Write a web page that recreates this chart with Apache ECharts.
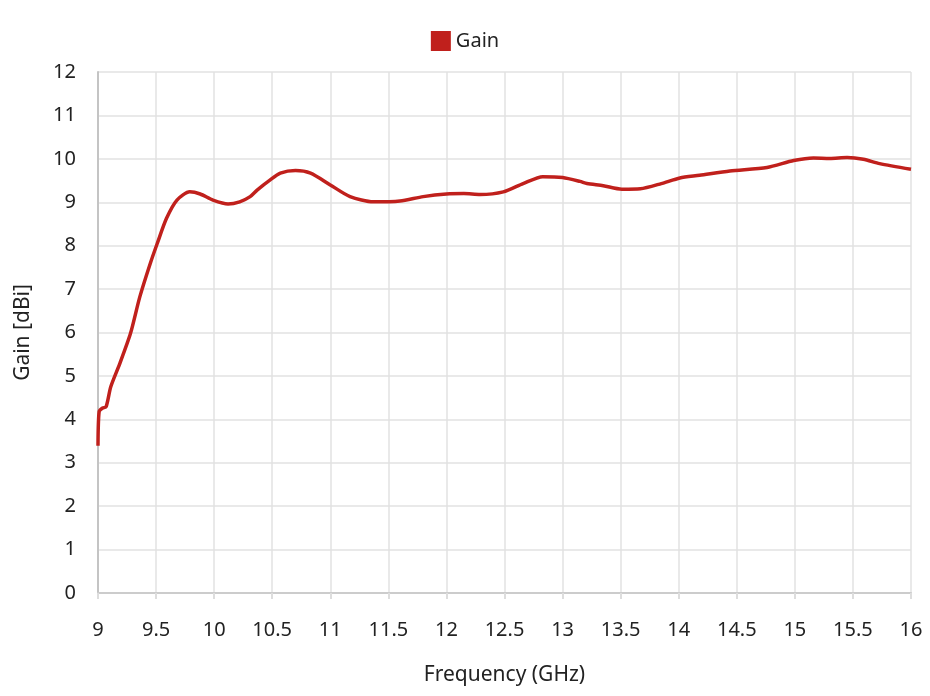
<!DOCTYPE html>
<html><head><meta charset="utf-8">
<script src="https://cdn.jsdelivr.net/npm/echarts@6/dist/echarts.min.js"></script>
<style>html,body{margin:0;padding:0;background:#fff}#c{width:930px;height:696px}</style>
</head><body><div id="c"></div>
<script>
const freq = [9.0, 9.01, 9.04, 9.07, 9.11, 9.19, 9.28, 9.36, 9.45, 9.51, 9.59, 9.68, 9.79, 9.88, 9.99, 10.12, 10.22, 10.31, 10.37, 10.48, 10.57, 10.70, 10.83, 11.0, 11.17, 11.37, 11.6, 11.8, 12.0, 12.15, 12.29, 12.49, 12.66, 12.83, 13.0, 13.15, 13.21, 13.35, 13.51, 13.67, 13.85, 14.01, 14.18, 14.44, 14.76, 14.99, 15.16, 15.3, 15.45, 15.59, 15.73, 16.0];
const gain = [3.39, 4.18, 4.26, 4.29, 4.75, 5.30, 5.98, 6.82, 7.59, 8.05, 8.63, 9.05, 9.24, 9.19, 9.05, 8.96, 9.01, 9.13, 9.28, 9.51, 9.67, 9.73, 9.67, 9.40, 9.13, 9.01, 9.03, 9.13, 9.19, 9.20, 9.18, 9.24, 9.43, 9.59, 9.57, 9.48, 9.43, 9.38, 9.30, 9.31, 9.43, 9.56, 9.62, 9.72, 9.80, 9.96, 10.02, 10.01, 10.03, 9.99, 9.89, 9.76];
const xTicks = [9, 9.5, 10, 10.5, 11, 11.5, 12, 12.5, 13, 13.5, 14, 14.5, 15, 15.5, 16];
const yTicks = [0,1,2,3,4,5,6,7,8,9,10,11,12];
const font = '"Noto Sans", sans-serif';
const chart = echarts.init(document.getElementById('c'), null, {renderer:'canvas'});
chart.setOption({
  animation:false,
  textStyle:{fontFamily:font},
  legend:{top:26, left:'center', itemWidth:20, itemHeight:20, itemGap:10, icon:'rect',
    textStyle:{fontSize:20, color:'#222', fontFamily:font}, data:['Gain']},
  grid:{left:98, right:19, top:72, bottom:103, containLabel:false},
  xAxis:{type:'value', min:9, max:16, interval:0.5,
    name:'Frequency (GHz)', nameLocation:'middle', nameGap:72,
    nameTextStyle:{fontSize:21, color:'#222', fontFamily:font},
    axisLine:{show:true, onZero:false, lineStyle:{color:'#cccccc', width:2}},
    axisTick:{show:true, length:6, lineStyle:{color:'#dddddd', width:2}},
    axisLabel:{fontSize:20, color:'#222', margin:27, fontFamily:font,
      formatter:v=> xTicks.includes(v)? String(v):''},
    splitLine:{show:true, lineStyle:{color:'#e2e2e2', width:1.5}}},
  yAxis:{type:'value', min:0, max:12, interval:1,
    name:'Gain [dBi]', nameLocation:'middle', nameGap:64, nameRotate:90,
    nameTextStyle:{fontSize:21, color:'#222', fontFamily:font},
    axisLine:{show:true, lineStyle:{color:'#c4c4c4', width:2}},
    axisTick:{show:false},
    axisLabel:{fontSize:20, color:'#222', margin:22, fontFamily:font,
      formatter:v=> yTicks.includes(v)? String(v):''},
    splitLine:{show:true, lineStyle:{color:'#e2e2e2', width:1.5}}},
  series:[{name:'Gain', type:'line', data:freq.map((f,i)=>[f,gain[i]]),
    showSymbol:false, smooth:0.25, color:'#c0201c',
    lineStyle:{width:3.5, color:'#c0201c'}}]
});
</script></body></html>
